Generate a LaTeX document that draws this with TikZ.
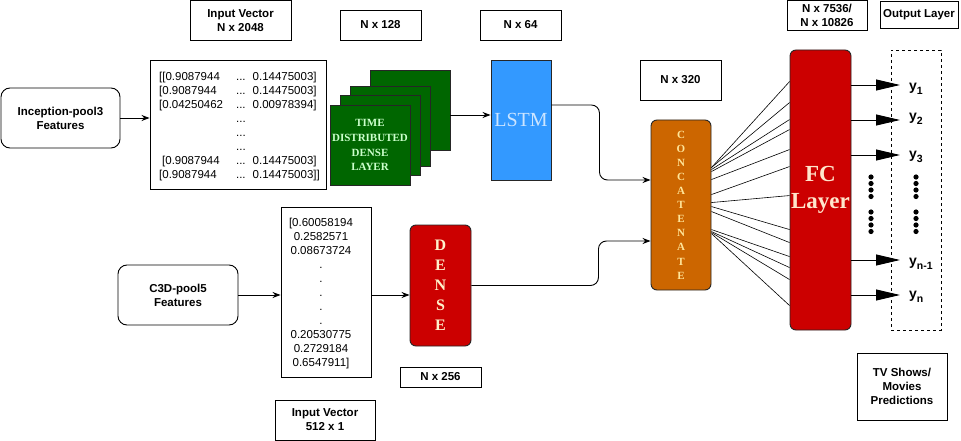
\documentclass[tikz,border=0pt]{standalone}
\usepackage{fontspec}
\setmainfont{Liberation Sans}
\newfontfamily\serifb{Liberation Serif}
\usetikzlibrary{arrows.meta,calc}
\definecolor{gfill}{HTML}{006600}
\definecolor{gtext}{HTML}{CCFFCC}
\definecolor{lfill}{HTML}{3399FF}
\definecolor{ltext}{HTML}{CCE5FF}
\definecolor{cfill}{HTML}{CC6600}
\definecolor{ctext}{HTML}{FFE599}
\definecolor{rfill}{HTML}{CC0000}
\definecolor{rtext}{HTML}{FFF2CC}
\definecolor{ftext}{HTML}{FFE6CC}
\tikzset{
  box/.style={draw, line width=0.9pt, inner sep=0pt, align=center,
    font=\fontsize{11.5}{14}\selectfont\bfseries},
  rbox/.style={box, rounded corners=9pt},
  layer/.style={draw=black!85, line width=0.9pt, rounded corners=6pt, inner sep=0pt, align=center},
  gsq/.style={draw=black!85, line width=0.9pt, fill=gfill, minimum width=80pt, minimum height=80pt, inner sep=0pt, align=center},
  arr/.style={-{Stealth[length=8pt,width=6pt]}, line width=0.9pt},
  bigarr/.style={-{Triangle[length=24pt,width=11pt]}, line width=0.9pt},
  fan/.style={line width=0.6pt},
  ylab/.style={anchor=west, inner sep=0pt, font=\fontsize{14}{14}\selectfont\bfseries},
  datatext/.style={inner sep=0pt, align=center, font=\fontsize{11.5}{14}\selectfont}
}
\newcommand{\ysub}[1]{y\raisebox{-3.5pt}{\fontsize{10.5}{10.5}\selectfont #1}}
\begin{document}
\begin{tikzpicture}[x=1pt,y=-1pt]
\useasboundingbox (0,0) rectangle (961,441);

% top labels
\node[box, minimum width=101pt, minimum height=39.5pt] (inv1) at (240.5,20.25) {Input Vector\\ N x 2048};
\node[box, minimum width=81pt, minimum height=30pt] (n128) at (380.5,25) {N x 128};
\node[box, minimum width=81pt, minimum height=30pt] (n64) at (520.5,25) {N x 64};
\node[box, minimum width=80pt, minimum height=29.5pt] (n7536) at (827,15.25) {N x 7536/\\ N x 10826};
\node[box, minimum width=78pt, minimum height=27pt] (outl) at (919,15) {Output Layer};
\node[box, minimum width=81pt, minimum height=40pt] (n320) at (680.5,80) {N x 320};

% inputs
\node[rbox, minimum width=119pt, minimum height=60pt] (incep) at (60.5,118) {Inception-pool3\\ Features};
\node[rbox, minimum width=120pt, minimum height=60pt] (c3d) at (178,295) {C3D-pool5\\ Features};

% matrix
\node[draw, line width=0.9pt, minimum width=176pt, minimum height=129pt] (mat) at (238,124.5) {};
\node[datatext] (mattext) at (239.5,127) {%
\begin{tabular}{@{}l@{\hspace{13pt}}c@{\hspace{7pt}}l@{}}
{}[[0.9087944 & ... & 0.14475003]\\
{}[0.9087944 & ... & 0.14475003]\\
{}[0.04250462 & ... & 0.00978394]\\
{} & ... & \\
{} & ... & \\
{} & ... & \\
\hspace{3pt}[0.9087944 & ... & 0.14475003]\\
{}[0.9087944 & ... & 0.14475003]]
\end{tabular}};

% vector
\node[draw, line width=0.9pt, minimum width=90pt, minimum height=170pt] (vec) at (326,292) {};
\node[datatext] (vectext) at (321,294) {{}[0.60058194\\ 0.2582571\\ 0.08673724\\ .\\ .\\ .\\ .\\ .\\ 0.20530775\\ 0.2729184\\ 0.6547911]};

% green stack
\node[gsq] (sq4) at (410,110) {};
\node[gsq] (sq3) at (390,126) {};
\node[gsq] (sq2) at (380,135) {};
\node[gsq, text=gtext, font=\serifb\bfseries\fontsize{11}{14.8}\selectfont] (sq1) at (370,145) {TIME\\DISTRIBUTED\\DENSE\\LAYER};

% LSTM
\node[layer, fill=lfill, rounded corners=0pt, minimum width=60pt, minimum height=120pt, text=ltext, font=\serifb\fontsize{20}{20}\selectfont] (lstm) at (521,120) {LSTM};

% DENSE
\node[layer, fill=rfill, minimum width=61pt, minimum height=121pt, text=rtext, font=\serifb\bfseries\fontsize{16}{20}\selectfont] (dense) at (440.5,285.5) {D\\E\\N\\S\\E};
\node[box, minimum width=81pt, minimum height=20pt] (n256) at (440.5,377) {N x 256};
\node[box, minimum width=100pt, minimum height=40pt] (inv2) at (325,420) {Input Vector\\ 512 x 1};

% CONCATENATE
\node[layer, fill=cfill, minimum width=60pt, minimum height=170pt, text=ctext, font=\serifb\bfseries\fontsize{11}{14.1}\selectfont] (concat) at (681,205) {C\\O\\N\\C\\A\\T\\E\\N\\A\\T\\E};

% FC
\node[layer, fill=rfill, minimum width=61pt, minimum height=280pt, text=ftext, font=\serifb\bfseries\fontsize{23}{27}\selectfont] (fc) at (820.5,190) {FC\\Layer};

% output dashed box
\node[draw, dashed, line width=0.8pt, minimum width=50pt, minimum height=280pt, inner sep=0pt] (outbox) at (916,190) {};
\node[box, minimum width=90pt, minimum height=67pt] (tv) at (902,386.5) {TV Shows/\\ Movies\\ Predictions};

% arrows
\draw[arr] (incep.east) -- (incep.east -| mat.west);
\draw[arr] ([yshift=-5pt]sq4.east) -- ([yshift=-5pt]sq4.east -| lstm.west);
\draw[arr] (c3d.east) -- (c3d.east -| vec.west);
\draw[arr] (c3d.east -| vec.east) -- (c3d.east -| dense.west);
\draw[arr, rounded corners=8pt] ([yshift=15pt]lstm.east) -- ++(48,0) |- ([yshift=25pt]concat.west);
\draw[arr, rounded corners=8pt] (dense.east) -- ++(127,0) |- ([yshift=-36pt]concat.west);

% fan
\foreach \s/\t in {48/32,48/53,50/70,52/80,60/100,75/117,83/146,87/180,92/193,110/207,112/218,113/230,114/256}
  \draw[fan] ($(concat.north east)+(0,\s)$) -- ($(fc.north west)+(0,\t)$);

% outputs
\coordinate (a1) at (900,85);
\coordinate (a2) at (900,120);
\coordinate (a3) at (900,155);
\coordinate (a4) at (900,260);
\coordinate (a5) at (900,295);
\foreach \a in {a1,a2,a3,a4,a5}
  \draw[bigarr] (fc.east |- \a) -- (\a);
\node[ylab] (y1) at (909,89) {\ysub{1}};
\node[ylab] (y2) at (909,119) {\ysub{2}};
\node[ylab] (y3) at (909,157) {\ysub{3}};
\node[ylab] (y4) at (909,264) {\ysub{n-1}};
\node[ylab] (y5) at (909,297) {\ysub{n}};

% dots
\foreach \x in {871,916}
  \foreach \y in {177,183.5,190,196.5,212,218.5,225,231.5}
    \fill (\x,\y) circle (2.6pt);
\end{tikzpicture}
\end{document}
